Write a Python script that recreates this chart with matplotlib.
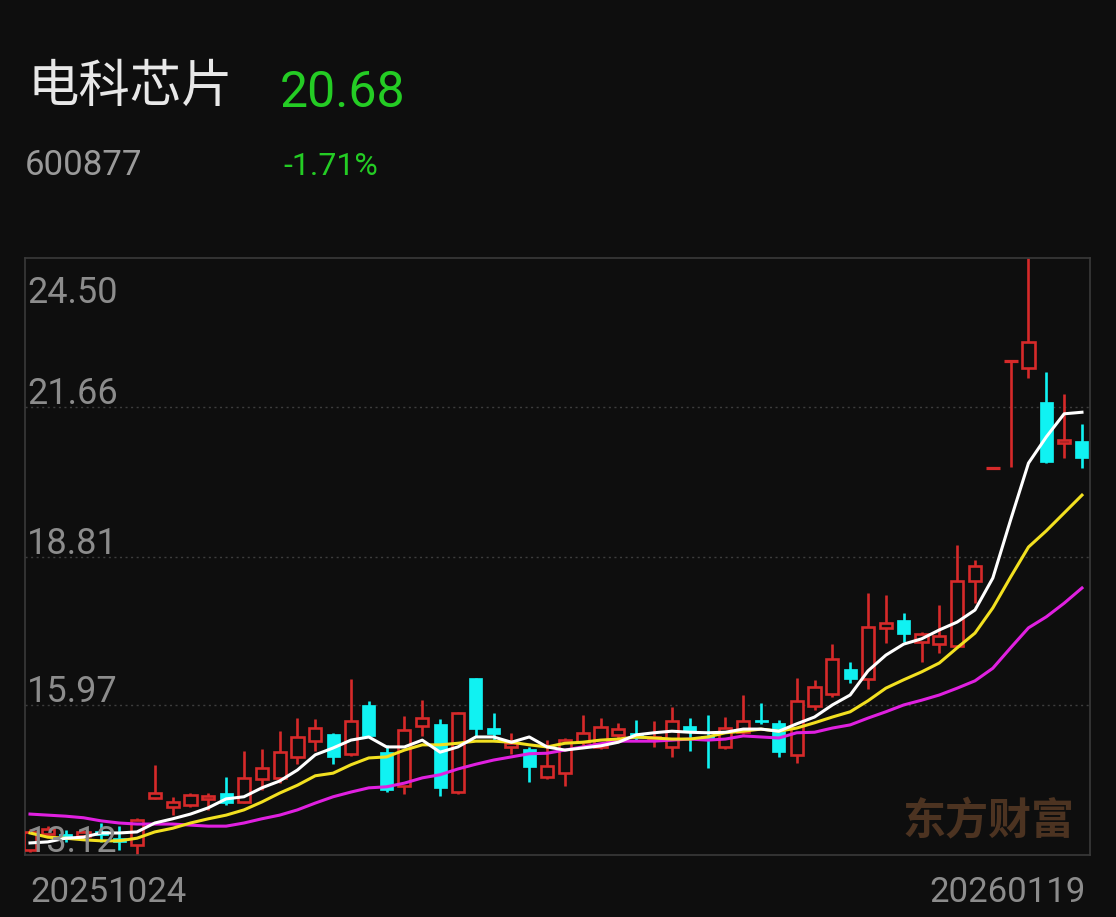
import matplotlib
matplotlib.use('Agg')
import matplotlib.pyplot as plt

# ---------------- data ----------------
title_name = '电科芯片'
stock_code = '600877'
last_price = '20.68'
pct_change = '-1.71%'
date_labels = ['20251024', '20260119']
ytick_values = [24.50, 21.66, 18.81, 15.97, 13.12]
watermark = '东方财富'

opens = [13.22, 13.52, 13.52, 13.48, 13.58, 13.44, 13.31, 14.21, 14.03, 14.07,
         14.19, 14.30, 14.13, 14.57, 14.59, 14.99, 15.29, 15.43, 15.05, 15.98,
         15.08, 14.43, 15.58, 15.62, 14.32, 16.49, 15.54, 15.18, 15.14, 14.61,
         14.68, 15.27, 15.18, 15.41, 15.45, 15.31, 15.18, 15.58, 15.39, 15.18,
         15.47, 15.69, 15.64, 15.03, 15.96, 16.19, 16.67, 16.48, 17.45, 17.60,
         17.18, 17.14, 17.10, 18.34, 20.49, 22.54, 22.40, 21.76, 20.97, 21.01]
highs = [13.62, 13.67, 13.60, 13.60, 13.73, 13.67, 13.82, 14.84, 14.23, 14.30,
         14.30, 14.61, 15.10, 15.14, 15.48, 15.73, 15.71, 15.45, 16.47, 16.06,
         15.22, 15.77, 16.08, 15.71, 15.85, 16.49, 15.83, 15.45, 15.18, 15.31,
         15.35, 15.79, 15.73, 15.64, 15.69, 15.67, 15.94, 15.73, 15.79, 15.75,
         16.17, 16.02, 15.69, 16.49, 16.46, 17.14, 16.80, 18.11, 18.08, 17.73,
         17.37, 17.89, 19.03, 18.74, 20.49, 22.54, 24.50, 22.33, 21.91, 21.34]
lows = [13.18, 13.46, 13.37, 13.44, 13.37, 13.22, 13.12, 14.19, 13.88, 14.03,
        13.98, 14.07, 14.11, 14.36, 14.49, 14.85, 15.10, 14.85, 15.01, 15.37,
        14.32, 14.28, 15.39, 14.24, 14.28, 15.37, 15.29, 15.05, 14.51, 14.57,
        14.43, 15.22, 15.14, 15.31, 15.31, 15.18, 14.99, 15.10, 14.78, 15.14,
        15.43, 15.62, 14.99, 14.87, 15.88, 16.13, 16.40, 16.28, 17.16, 17.18,
        16.80, 16.97, 17.07, 17.92, 20.49, 20.52, 22.21, 20.60, 20.69, 20.50]
closes = [13.56, 13.62, 13.46, 13.56, 13.50, 13.37, 13.79, 14.30, 14.13, 14.26,
          14.24, 14.11, 14.59, 14.78, 15.08, 15.37, 15.54, 14.99, 15.68, 15.39,
          14.36, 15.50, 15.73, 14.40, 15.83, 15.52, 15.43, 15.25, 14.80, 14.82,
          15.31, 15.45, 15.56, 15.52, 15.35, 15.37, 15.67, 15.47, 15.35, 15.54,
          15.68, 15.66, 15.08, 16.06, 16.32, 16.86, 16.48, 17.47, 17.54, 17.33,
          17.33, 17.29, 18.34, 18.63, 20.49, 22.54, 22.90, 20.61, 21.04, 20.68]

ma5 = [13.35, 13.37, 13.44, 13.46, 13.54, 13.54, 13.56, 13.73, 13.81, 13.90,
       14.02, 14.19, 14.23, 14.40, 14.53, 14.74, 15.03, 15.16, 15.31, 15.37,
       15.18, 15.18, 15.31, 15.08, 15.18, 15.37, 15.37, 15.27, 15.37, 15.18,
       15.12, 15.16, 15.20, 15.27, 15.41, 15.45, 15.48, 15.46, 15.45, 15.46,
       15.52, 15.52, 15.48, 15.62, 15.75, 15.98, 16.17, 16.63, 16.93, 17.14,
       17.24, 17.41, 17.56, 17.79, 18.40, 19.51, 20.59, 21.09, 21.53, 21.56]
ma10 = [13.54, 13.46, 13.44, 13.41, 13.39, 13.39, 13.44, 13.56, 13.63, 13.73,
        13.81, 13.88, 13.98, 14.13, 14.30, 14.45, 14.63, 14.68, 14.84, 14.97,
        14.99, 15.12, 15.22, 15.22, 15.25, 15.29, 15.29, 15.27, 15.22, 15.18,
        15.25, 15.27, 15.31, 15.33, 15.37, 15.35, 15.33, 15.33, 15.37, 15.45,
        15.48, 15.52, 15.48, 15.54, 15.64, 15.75, 15.85, 16.06, 16.30, 16.46,
        16.61, 16.78, 17.07, 17.35, 17.83, 18.42, 18.99, 19.30, 19.64, 19.98]
ma20 = [13.90, 13.88, 13.86, 13.83, 13.77, 13.73, 13.71, 13.71, 13.71, 13.69,
        13.67, 13.67, 13.73, 13.81, 13.88, 13.98, 14.11, 14.23, 14.32, 14.40,
        14.42, 14.49, 14.59, 14.65, 14.76, 14.85, 14.93, 14.99, 15.05, 15.06,
        15.12, 15.18, 15.24, 15.29, 15.29, 15.29, 15.31, 15.33, 15.31, 15.33,
        15.39, 15.37, 15.35, 15.45, 15.46, 15.54, 15.60, 15.73, 15.85, 15.98,
        16.07, 16.17, 16.30, 16.44, 16.68, 17.07, 17.45, 17.66, 17.92, 18.21]

# ---------------- style ----------------
BG = '#0e0e0e'
RED = '#d62a2a'
CYAN = '#10f2f2'
GREEN = '#24cc24'
GRAY = '#8c8c8c'
FRAME = '#3a3a3a'

LAT = ['Roboto', 'DejaVu Sans']
CJK = ['Noto Sans CJK SC', 'DejaVu Sans']

W, H = 1116, 917
fig = plt.figure(figsize=(W / 100, H / 100), dpi=100, facecolor=BG)

L, R, T, B = 25, 1090, 258, 855
ax = fig.add_axes([L / W, 1 - B / H, (R - L) / W, (B - T) / H])
ax.set_facecolor(BG)

n = len(closes)
xs = list(range(n))
ax.set_xlim(-0.28, n - 1 + 0.45)
ax.set_ylim(min(lows), max(highs))

for s in ax.spines.values():
    s.set_color(FRAME)
    s.set_linewidth(1.2)
ax.set_xticks([])
ax.set_yticks([])

for v in ytick_values[1:-1]:
    ax.axhline(v, color='#3d3d3d', lw=1.0, ls=(0, (1.5, 2.5)), zorder=1)

# watermark
ax.text(0.985, 0.057, watermark, transform=ax.transAxes, ha='right', va='center',
        fontsize=31, fontweight='bold', color='#4c3321', family=CJK, zorder=1.5)

# candles
bw = 0.68
lw_pt = 1.9
for i in xs:
    o, h, l, c = opens[i], highs[i], lows[i], closes[i]
    if c > o:
        up = True
    elif c < o:
        up = False
    else:
        up = (i == 0) or (c >= closes[i - 1])
    top, bot = max(o, c), min(o, c)
    if up:
        if h > top:
            ax.vlines(i, top, h, color=RED, lw=lw_pt, zorder=2)
        if l < bot:
            ax.vlines(i, l, bot, color=RED, lw=lw_pt, zorder=2)
        if top - bot < 0.02:
            ax.hlines(top, i - bw / 2 - 0.05, i + bw / 2 + 0.05, color=RED, lw=2.3, zorder=3)
        else:
            ax.bar(i, top - bot, bottom=bot, width=bw, facecolor=BG, edgecolor=RED,
                   linewidth=lw_pt, zorder=3)
    else:
        ax.vlines(i, l, h, color=CYAN, lw=lw_pt, zorder=2)
        if top - bot < 0.02:
            ax.hlines(top, i - bw / 2 - 0.05, i + bw / 2 + 0.05, color=CYAN, lw=2.3, zorder=3)
        else:
            ax.bar(i, top - bot, bottom=bot, width=bw + 0.05, facecolor=CYAN, edgecolor=CYAN,
                   linewidth=0.5, zorder=3)

# moving averages
ax.plot(xs, ma20, color='#e020e0', lw=2.2, zorder=4, solid_joinstyle='round')
ax.plot(xs, ma10, color='#f2e020', lw=2.2, zorder=4, solid_joinstyle='round')
ax.plot(xs, ma5, color='#ffffff', lw=2.2, zorder=5, solid_joinstyle='round')

# y labels (inside the plot)
for v in ytick_values:
    dy = -45 if v == max(ytick_values) else 3
    ax.annotate(f'{v:.2f}', xy=(0, v), xycoords=('axes fraction', 'data'),
                xytext=(2, dy), textcoords='offset pixels', ha='left', va='baseline',
                fontsize=26, color=GRAY, family=LAT, zorder=6)

# date labels
fig.text(30 / W, 1 - 902 / H, date_labels[0], ha='left', va='baseline',
         fontsize=25, color=GRAY, family=LAT)
fig.text(1086 / W, 1 - 902 / H, date_labels[1], ha='right', va='baseline',
         fontsize=25, color=GRAY, family=LAT)

# header
fig.text(27 / W, 1 - 87 / H, title_name, ha='left', va='center', fontsize=37,
         color='#e8e8e8', family=CJK)
fig.text(280 / W, 1 - 107 / H, last_price, ha='left', va='baseline', fontsize=36,
         color=GREEN, family=LAT)
fig.text(25 / W, 1 - 175 / H, stock_code, ha='left', va='baseline', fontsize=25,
         color='#9a9a9a', family=LAT)
fig.text(283 / W, 1 - 175 / H, pct_change, ha='left', va='baseline', fontsize=23,
         color=GREEN, family=LAT)

fig.savefig('out.png', dpi=100, facecolor=BG)
